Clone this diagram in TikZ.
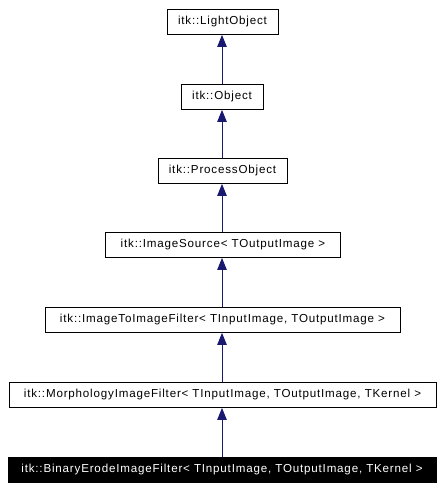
\documentclass[tikz,border=0pt]{standalone}
\usepackage{fontspec}
\setmainfont{Liberation Sans}
\newfontfamily\boxfont[LetterSpace=7]{Liberation Sans}
\usetikzlibrary{arrows.meta}
\definecolor{edgeblue}{HTML}{191970}
\begin{document}
\begin{tikzpicture}[x=1pt,y=-1pt,
  cls/.style={draw=black,line width=0.9pt,fill=white,minimum height=25pt,inner sep=0pt,font=\boxfont\fontsize{11.6}{13}\selectfont,anchor=north},
  cur/.style={cls,fill=black,text=white},
  inh/.style={draw=edgeblue,line width=0.9pt,-{Triangle[length=12pt,width=9.5pt]}}]
\useasboundingbox (0,0) rectangle (444,490);
\node[cls,minimum width=111pt] (a) at (222.5,9) {itk::LightObject};
\node[cls,minimum width=82pt] (b) at (222,84) {itk::Object};
\node[cls,minimum width=129pt] (c) at (222.5,158) {itk::ProcessObject};
\node[cls,minimum width=235pt] (d) at (223,232) {itk::ImageSource< TOutputImage >};
\node[cls,minimum width=355pt] (e) at (222.5,307) {itk::ImageToImageFilter< TInputImage, TOutputImage >};
\node[cls,minimum width=427pt] (f) at (222.5,382) {itk::MorphologyImageFilter< TInputImage, TOutputImage, TKernel >};
\node[cur,minimum width=428pt] (g) at (222,457) {itk::BinaryErodeImageFilter< TInputImage, TOutputImage, TKernel >};
\draw[inh] (b.north -| 222,0) -- (a.south -| 222,0);
\draw[inh] (c.north -| 222,0) -- (b.south -| 222,0);
\draw[inh] (d.north -| 222,0) -- (c.south -| 222,0);
\draw[inh] (e.north -| 222,0) -- (d.south -| 222,0);
\draw[inh] (f.north -| 222,0) -- (e.south -| 222,0);
\draw[inh] (g.north -| 222,0) -- (f.south -| 222,0);
\end{tikzpicture}
\end{document}
